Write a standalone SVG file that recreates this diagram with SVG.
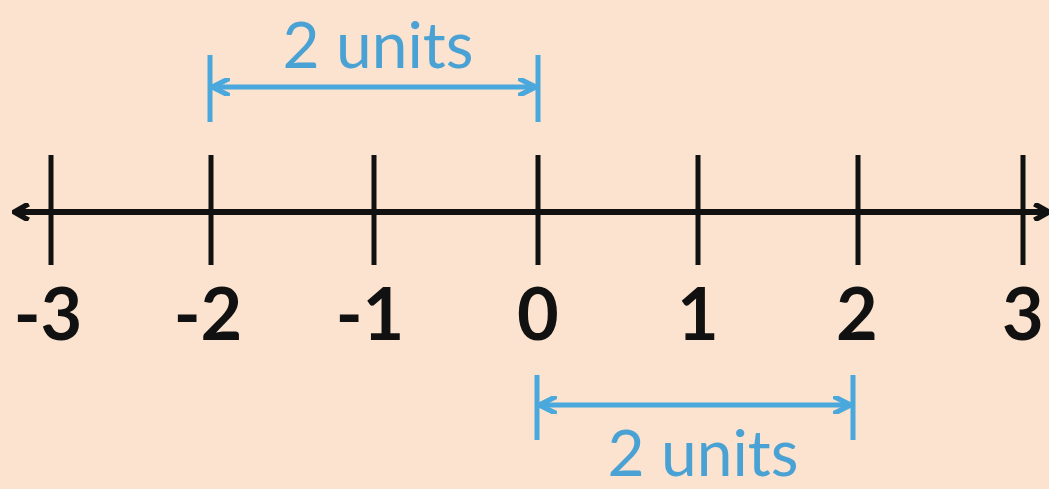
<svg xmlns="http://www.w3.org/2000/svg" width="1049" height="489" viewBox="0 0 1049 489">
<style>
.tick{stroke:#111;stroke-width:5}
.axis{stroke:#111;stroke-width:6}
.num{font-family:Lato,"Liberation Sans",sans-serif;font-weight:bold;font-size:72px;fill:#111;text-anchor:middle}
.blu{stroke:#4aa8dc;stroke-width:5;fill:none}
.lbl{font-family:Lato,"Liberation Sans",sans-serif;font-size:64px;fill:#4aa2d4;text-anchor:middle}
</style>
<defs>
<marker id="ah" viewBox="0 0 10 10" refX="8" refY="5" markerWidth="3" markerHeight="3" orient="auto-start-reverse"><path d="M1,0.5 L9,5 L1,9.5" fill="none" stroke="#111" stroke-width="3"/></marker>
<marker id="bh" viewBox="0 0 10 10" refX="9" refY="5" markerWidth="3.5" markerHeight="3.5" orient="auto-start-reverse"><path d="M0,0 L10,5 L0,10" fill="none" stroke="#4aa8dc" stroke-width="3"/></marker>
</defs>
<rect width="1049" height="489" fill="#fbe3cf"/>
<g id="connectors">
<line class="axis" x1="16" y1="212" x2="1047" y2="212" marker-start="url(#ah)" marker-end="url(#ah)"/>
<line class="blu" x1="214" y1="87" x2="534" y2="87" marker-start="url(#bh)" marker-end="url(#bh)"/>
<line class="blu" x1="541" y1="405" x2="849" y2="405" marker-start="url(#bh)" marker-end="url(#bh)"/>
</g>
<g id="ticks">
<line class="tick" x1="51" y1="155" x2="51" y2="265"/>
<line class="tick" x1="211" y1="155" x2="211" y2="265"/>
<line class="tick" x1="374" y1="155" x2="374" y2="265"/>
<line class="tick" x1="538" y1="155" x2="538" y2="265"/>
<line class="tick" x1="698" y1="155" x2="698" y2="265"/>
<line class="tick" x1="858" y1="155" x2="858" y2="265"/>
<line class="tick" x1="1023" y1="155" x2="1023" y2="265"/>
</g>
<g id="labels">
<text class="num" x="48" y="340">-3</text>
<text class="num" x="208" y="340">-2</text>
<text class="num" x="370" y="340">-1</text>
<text class="num" x="538" y="340">0</text>
<text class="num" x="698" y="340">1</text>
<text class="num" x="857" y="340">2</text>
<text class="num" x="1023" y="340">3</text>
</g>
<g id="bracket-top">
<line class="blu" x1="210" y1="55" x2="210" y2="122"/>
<line class="blu" x1="538" y1="55" x2="538" y2="122"/>
<text class="lbl" x="378" y="68">2 units</text>
</g>
<g id="bracket-bottom">
<line class="blu" x1="537" y1="375" x2="537" y2="440"/>
<line class="blu" x1="853" y1="375" x2="853" y2="440"/>
<text class="lbl" x="703" y="476">2 units</text>
</g>
</svg>
